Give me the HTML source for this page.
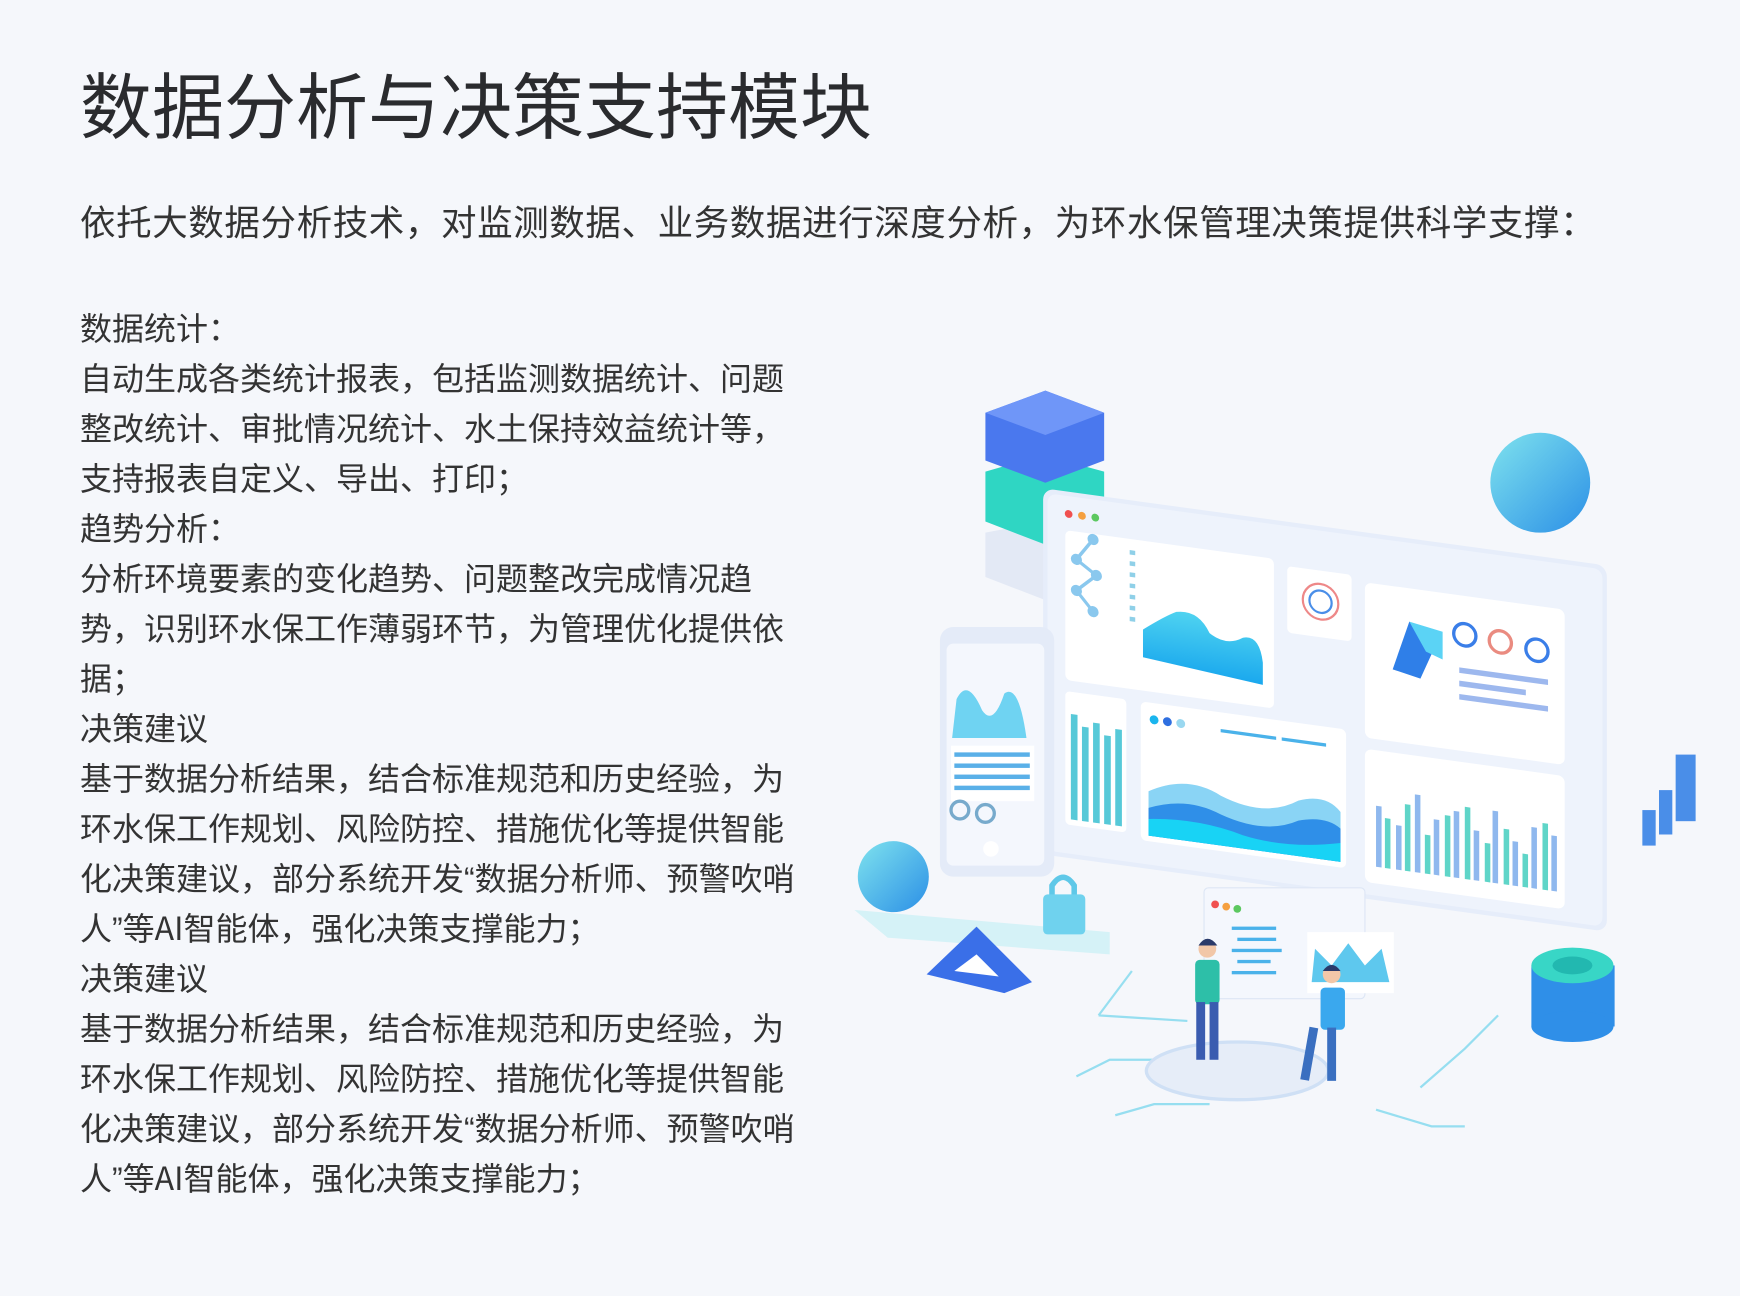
<!DOCTYPE html>
<html><head><meta charset="utf-8">
<style>
html,body{margin:0;padding:0}
body{width:1740px;height:1296px;background:#f5f7fb;position:relative;overflow:hidden;font-family:"Noto Sans CJK SC","Liberation Sans",sans-serif;color:#2f3033}
h1{position:absolute;left:80px;top:60px;margin:0;font-size:72px;line-height:84px;font-weight:400;color:#2a2b2e;letter-spacing:0}
.sub{position:absolute;left:80px;top:198px;font-size:35.5px;line-height:46px;white-space:nowrap;color:#333;letter-spacing:0.6px}
.body{position:absolute;left:80px;top:302px;font-size:32px;line-height:50px;white-space:nowrap;color:#333}
.body div{height:50px;overflow:visible}
.q{font-family:"Liberation Sans",sans-serif;}
svg{position:absolute;left:0;top:0}
</style></head><body>
<h1>数据分析与决策支持模块</h1>
<div class="sub">依托大数据分析技术，对监测数据、业务数据进行深度分析，为环水保管理决策提供科学支撑：</div>
<div class="body">
<div>数据统计：</div>
<div>自动生成各类统计报表，包括监测数据统计、问题</div>
<div>整改统计、审批情况统计、水土保持效益统计等，</div>
<div>支持报表自定义、导出、打印；</div>
<div>趋势分析：</div>
<div>分析环境要素的变化趋势、问题整改完成情况趋</div>
<div>势，识别环水保工作薄弱环节，为管理优化提供依</div>
<div>据；</div>
<div>决策建议</div>
<div>基于数据分析结果，结合标准规范和历史经验，为</div>
<div>环水保工作规划、风险防控、措施优化等提供智能</div>
<div>化决策建议，部分系统开发<span class="q">“</span>数据分析师、预警吹哨</div>
<div>人<span class="q">”</span>等AI智能体，强化决策支撑能力；</div>
<div>决策建议</div>
<div>基于数据分析结果，结合标准规范和历史经验，为</div>
<div>环水保工作规划、风险防控、措施优化等提供智能</div>
<div>化决策建议，部分系统开发<span class="q">“</span>数据分析师、预警吹哨</div>
<div>人<span class="q">”</span>等AI智能体，强化决策支撑能力；</div>
</div>
<svg width="1740" height="1296" viewBox="0 0 1740 1296">
<defs>
<linearGradient id="sph" x1="0" y1="0" x2="1" y2="1"><stop offset="0" stop-color="#7fe3ee"/><stop offset="1" stop-color="#2b8fe6"/></linearGradient>
<linearGradient id="wave" x1="0" y1="0" x2="0" y2="1"><stop offset="0" stop-color="#4fd3f0"/><stop offset="1" stop-color="#1aa8ee"/></linearGradient>
</defs>
<g transform="scale(1.1097)">
<g stroke="#7fd8ee" stroke-width="2" fill="none" opacity="0.8">
<path d="M990 915 L1020 875 M990 915 L1070 920"/>
<path d="M970 970 L1000 955 L1040 955"/>
<path d="M1005 1005 L1040 995 L1090 995"/>
<path d="M1280 980 L1320 945 L1350 915"/>
<path d="M1240 1000 L1290 1015 L1320 1015"/>
</g>
<polygon points="770,820 1000,840 1000,860 800,845" fill="#c8f0f5" opacity="0.7"/>
<polygon points="888,480 940,470 995,480 995,520 940,540 888,520" fill="#e3e9f5"/>
<polygon points="888,425 940,410 995,425 995,470 940,490 888,470" fill="#2fd6c3"/>
<polygon points="888,372 942,352 995,372 995,415 942,435 888,415" fill="#4a78ee"/>
<polygon points="888,372 942,352 995,372 942,392" fill="#6f96f8"/>
<g transform="translate(940,440) skewY(7.8)">
<rect x="0" y="0" width="508" height="330" rx="10" fill="#e6edfa"/>
<rect x="4" y="4" width="500" height="322" rx="8" fill="#eef3fc"/>
<circle cx="23" cy="20" r="3.5" fill="#f05050"/><circle cx="35" cy="20" r="3.5" fill="#f5a040"/><circle cx="47" cy="20" r="3.5" fill="#5cc860"/>
<rect x="20" y="35" width="188" height="135" rx="5" fill="#fff"/>
<path d="M45 30 L30 50 L48 62 L30 78 L45 95" transform="translate(0,10)" stroke="#8ac8ee" stroke-width="3" fill="none"/>
<circle cx="45" cy="40" r="5" fill="#8ac8ee"/><circle cx="30" cy="60" r="5" fill="#8ac8ee"/><circle cx="48" cy="72" r="5" fill="#8ac8ee"/><circle cx="30" cy="88" r="5" fill="#8ac8ee"/><circle cx="45" cy="105" r="5" fill="#8ac8ee"/>
<g fill="#8fd0e8"><rect x="78" y="45" width="5" height="4"/><rect x="78" y="55" width="5" height="4"/><rect x="78" y="65" width="5" height="4"/><rect x="78" y="75" width="5" height="4"/><rect x="78" y="85" width="5" height="4"/><rect x="78" y="95" width="5" height="4"/><rect x="78" y="105" width="5" height="4"/></g>
<path d="M90 140 L90 115 Q110 100 120 95 Q140 90 150 110 Q165 120 180 110 Q195 105 198 130 L198 150 Z" fill="url(#wave)"/>
<rect x="220" y="40" width="58" height="60" rx="4" fill="#fff"/>
<circle cx="250" cy="68" r="16" fill="none" stroke="#e88" stroke-width="2"/><circle cx="250" cy="68" r="10" fill="none" stroke="#4a8ee8" stroke-width="2"/>
<rect x="290" y="45" width="180" height="140" rx="6" fill="#fff"/>
<path d="M315 120 L330 75 L355 90 L340 125 Z" fill="#2f7fe8"/><path d="M330 75 L360 80 L360 105 L345 100 Z" fill="#5bd3f5"/>
<circle cx="380" cy="80" r="10" fill="none" stroke="#3a7ee8" stroke-width="3"/><circle cx="412" cy="82" r="10" fill="none" stroke="#ea8b80" stroke-width="3"/><circle cx="445" cy="85" r="10" fill="none" stroke="#3a7ee8" stroke-width="3"/>
<rect x="375" y="110" width="80" height="5" fill="#9db8ee"/><rect x="375" y="122" width="60" height="5" fill="#9db8ee"/><rect x="375" y="134" width="80" height="5" fill="#9db8ee"/>
<rect x="20" y="180" width="55" height="120" rx="4" fill="#fff"/>
<g fill="#57c9d8"><rect x="25" y="200" width="6" height="95"/><rect x="35" y="210" width="6" height="85"/><rect x="45" y="205" width="6" height="90"/><rect x="55" y="215" width="6" height="80"/><rect x="65" y="208" width="6" height="87"/></g>
<rect x="88" y="180" width="185" height="125" rx="5" fill="#fff"/>
<circle cx="100" cy="195" r="4" fill="#1ab5ee"/><circle cx="112" cy="195" r="4" fill="#2f6fe0"/><circle cx="124" cy="195" r="4" fill="#9ad8f0"/>
<rect x="160" y="195" width="50" height="3" fill="#4ab2ea"/><rect x="215" y="195" width="40" height="3" fill="#4ab2ea"/>
<path d="M95 260 Q130 240 160 255 Q200 270 230 250 Q255 240 268 255 L268 300 L95 300 Z" fill="#8ad4f5"/>
<path d="M95 275 Q130 260 160 272 Q200 285 230 268 Q255 260 268 270 L268 300 L95 300 Z" fill="#2f8fe8"/>
<path d="M95 285 Q140 278 180 288 Q220 295 268 283 L268 300 L95 300 Z" fill="#18d3f5"/>
<rect x="290" y="195" width="180" height="120" rx="6" fill="#fff"/>
<g fill="#8fb8ee"><rect x="300" y="245" width="5" height="55"/><rect x="318" y="260" width="5" height="40"/><rect x="335" y="230" width="5" height="70"/><rect x="352" y="250" width="5" height="50"/><rect x="370" y="240" width="5" height="60"/><rect x="388" y="255" width="5" height="45"/><rect x="405" y="235" width="5" height="65"/><rect x="423" y="260" width="5" height="40"/><rect x="440" y="245" width="5" height="55"/><rect x="458" y="250" width="5" height="50"/></g>
<g fill="#5fd5c8"><rect x="308" y="255" width="5" height="45"/><rect x="326" y="240" width="5" height="60"/><rect x="344" y="265" width="5" height="35"/><rect x="362" y="245" width="5" height="55"/><rect x="380" y="235" width="5" height="65"/><rect x="398" y="265" width="5" height="35"/><rect x="415" y="250" width="5" height="50"/><rect x="432" y="270" width="5" height="30"/><rect x="450" y="240" width="5" height="60"/></g>
</g>
<rect x="847" y="565" width="103" height="225" rx="12" fill="#e4ebf8"/>
<rect x="853" y="580" width="88" height="200" rx="6" fill="#f4f7fd"/>
<path d="M858 665 L862 630 Q872 610 885 640 Q895 655 905 625 Q918 615 925 665 Z" fill="#6fd3f2"/>
<rect x="857" y="672" width="75" height="50" fill="#fff"/>
<g fill="#5ab0e8"><rect x="860" y="678" width="68" height="4"/><rect x="860" y="688" width="68" height="4"/><rect x="860" y="698" width="68" height="4"/><rect x="860" y="708" width="68" height="4"/></g>
<circle cx="865" cy="730" r="8" fill="none" stroke="#7ac" stroke-width="3"/><circle cx="888" cy="733" r="8" fill="none" stroke="#7ac" stroke-width="3"/>
<circle cx="893" cy="765" r="7" fill="#fff"/>
<circle cx="1388" cy="435" r="45" fill="url(#sph)"/>
<circle cx="805" cy="790" r="32" fill="url(#sph)"/>
<path d="M948 808 L948 798 Q958 783 968 798 L968 808" stroke="#5fc8e8" stroke-width="5" fill="none"/>
<rect x="940" y="806" width="38" height="36" rx="4" fill="#6fd2ee"/>
<polygon points="835,878 880,835 930,885 905,895" fill="#3a6fe8"/>
<polygon points="860,875 880,860 900,880" fill="#fff"/>
<g fill="#4a8ee8"><rect x="1480" y="730" width="12" height="32"/><rect x="1495" y="712" width="12" height="40"/><rect x="1510" y="680" width="18" height="60"/></g>
<rect x="1380" y="870" width="75" height="55" fill="#2f8fe8"/>
<ellipse cx="1417" cy="925" rx="37" ry="14" fill="#2f8fe8"/>
<ellipse cx="1417" cy="870" rx="37" ry="16" fill="#38d6c6"/>
<ellipse cx="1417" cy="870" rx="18" ry="8" fill="#22b8b0"/>
<ellipse cx="1115" cy="965" rx="82" ry="26" fill="#e6edf8" stroke="#cfe0f5" stroke-width="3"/>
<rect x="1085" y="800" width="145" height="100" rx="4" fill="#f4f7fd" stroke="#dde6f5"/>
<circle cx="1095" cy="815" r="3.5" fill="#f05050"/><circle cx="1105" cy="817" r="3.5" fill="#f5a040"/><circle cx="1115" cy="819" r="3.5" fill="#5cc860"/>
<g fill="#4ab2ea"><rect x="1110" y="835" width="40" height="3"/><rect x="1115" y="845" width="35" height="3"/><rect x="1110" y="855" width="45" height="3"/><rect x="1115" y="865" width="30" height="3"/><rect x="1110" y="875" width="40" height="3"/></g>
<rect x="1178" y="840" width="78" height="55" fill="#fff"/>
<path d="M1182 885 L1185 855 L1200 870 L1215 850 L1230 870 L1245 855 L1252 885 Z" fill="#5ec8ee"/>
<rect x="1077" y="865" width="22" height="40" rx="4" fill="#2dbfa8"/>
<circle cx="1088" cy="855" r="8" fill="#f2c7a8"/><path d="M1080 852 Q1088 840 1097 852" fill="#2a3a6a"/>
<rect x="1078" y="903" width="8" height="52" fill="#3a5cb0"/><rect x="1090" y="903" width="8" height="52" fill="#3a5cb0"/>
<rect x="1190" y="890" width="22" height="38" rx="4" fill="#3aa8ee"/>
<circle cx="1200" cy="878" r="8" fill="#f2c7a8"/><path d="M1192 875 Q1200 864 1208 875" fill="#2a3a6a"/>
<rect x="1180" y="926" width="8" height="48" fill="#3a6fc0" transform="rotate(10 1184 926)"/><rect x="1196" y="926" width="8" height="48" fill="#3a6fc0"/>
</g>
</svg>
</body></html>
